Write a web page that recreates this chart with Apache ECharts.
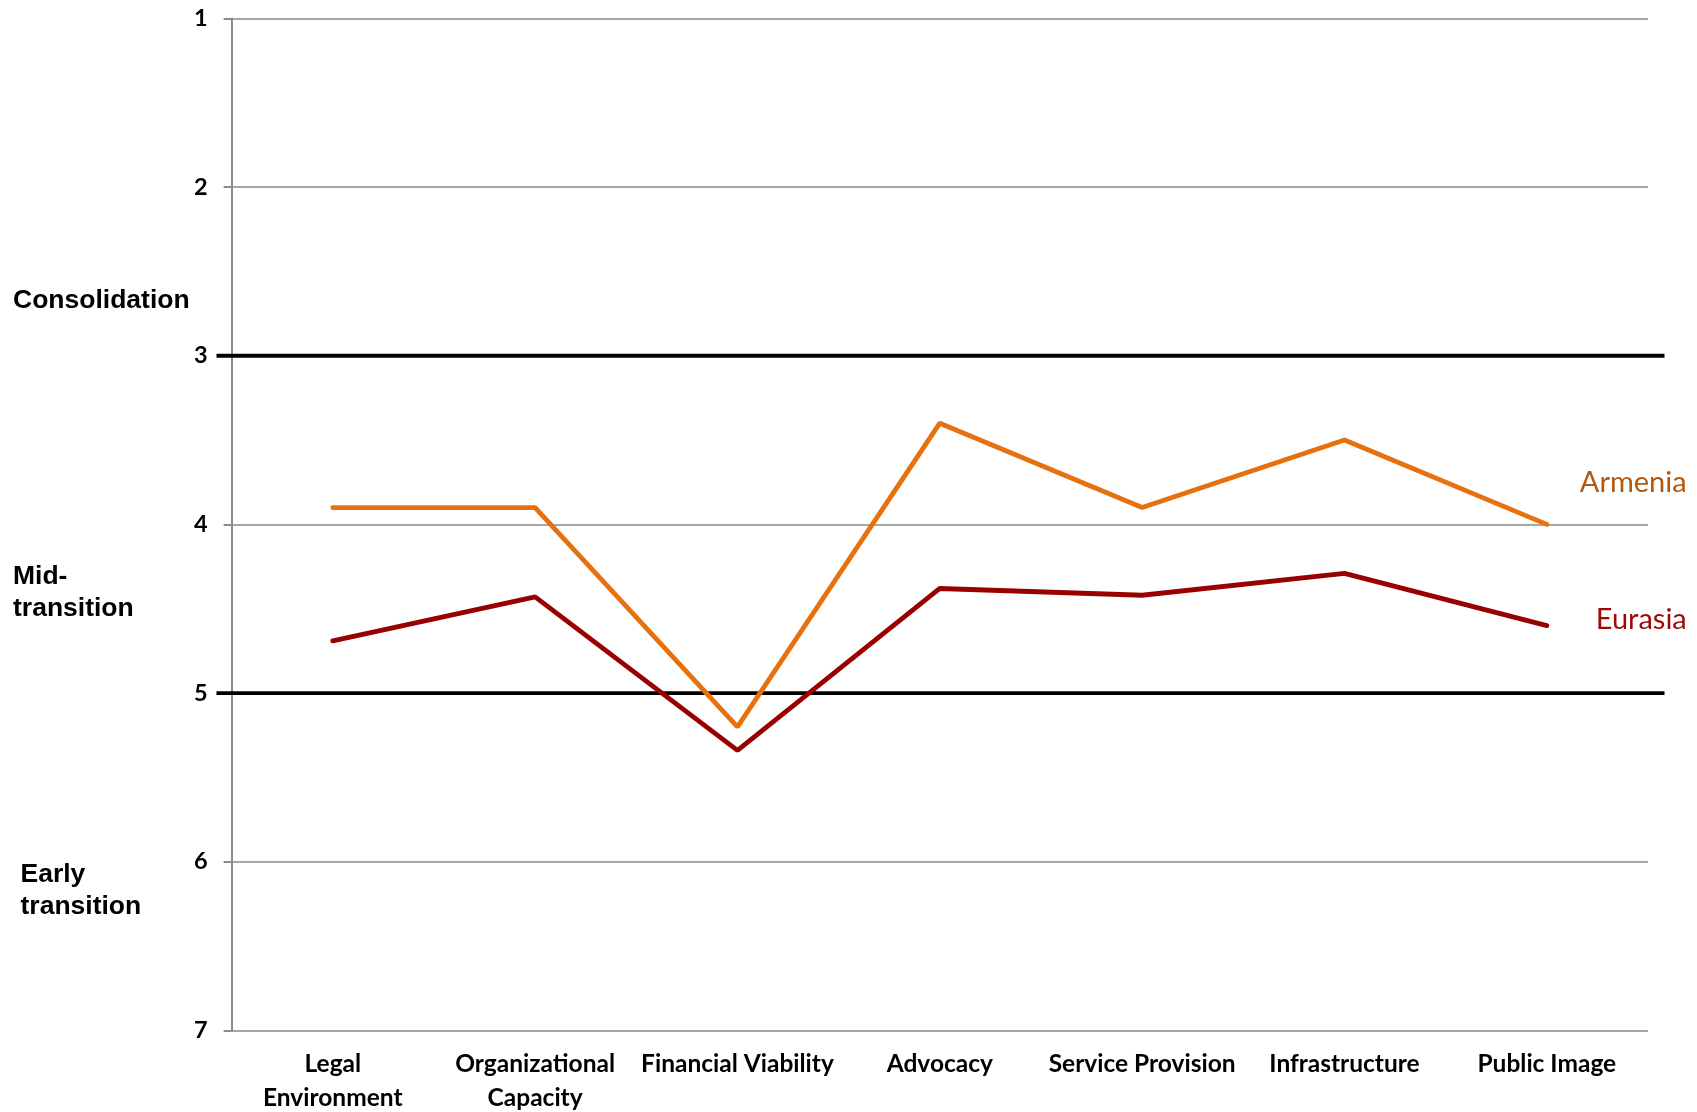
<!DOCTYPE html>
<html>
<head>
<meta charset="utf-8">
<script src="https://cdn.jsdelivr.net/npm/echarts@6/dist/echarts.min.js"></script>
<style>
html,body{margin:0;padding:0;background:#fff;overflow:hidden;width:1697px;height:1112px;}
#chart{width:1697px;height:1112px;}
</style>
</head>
<body>
<div id="chart"></div>
<script>
const categories = ['Legal\nEnvironment', 'Organizational\nCapacity', 'Financial Viability', 'Advocacy', 'Service Provision', 'Infrastructure', 'Public Image'];
const armenia = [3.9, 3.9, 5.2, 3.4, 3.9, 3.5, 4.0];
const eurasia = [4.69, 4.43, 5.34, 4.38, 4.42, 4.29, 4.6];
const yTicks = [1, 2, 3, 4, 5, 6, 7];
const boundaries = [3, 5];
const stageLabels = ['Consolidation', 'Mid-\ntransition', 'Early\ntransition'];

const chart = echarts.init(document.getElementById('chart'), null, { width: 1697, height: 1112 });
const gridCol = '#8a8a8a';
chart.setOption({
  animation: false,
  backgroundColor: '#ffffff',
  grid: { left: 231.6, right: 49, top: 18.4, bottom: 81.6, containLabel: false, outerBoundsMode: 'none' },
  xAxis: {
    type: 'category',
    data: categories,
    boundaryGap: true,
    axisLine: { show: false },
    axisTick: { show: false },
    axisLabel: { color: '#000', fontFamily: 'Lato', fontWeight: 'bold', fontSize: 24.5, lineHeight: 33.5, margin: 17, interval: 0 }
  },
  yAxis: {
    type: 'value',
    inverse: true,
    min: yTicks[0],
    max: yTicks[yTicks.length - 1],
    interval: 1,
    axisLine: { show: true, lineStyle: { color: gridCol, width: 2 } },
    axisTick: { show: true, length: 8, lineStyle: { color: gridCol, width: 2 } },
    splitLine: { show: true, lineStyle: { color: gridCol, width: 1.6 } },
    axisLabel: { color: '#000', fontFamily: 'Lato', fontWeight: 'bold', fontSize: 23.5, margin: 24 }
  },
  series: [
    {
      name: 'Armenia', type: 'line', data: armenia, symbol: 'none',
      lineStyle: { color: '#E8710F', width: 4.8, cap: 'round' },
      itemStyle: { color: '#E8710F' },
      endLabel: { show: true, formatter: '{a}', color: '#B0580F', fontFamily: 'Lato', fontSize: 29, offset: [25, -42] },
      z: 3
    },
    {
      name: 'Eurasia', type: 'line', data: eurasia, symbol: 'none',
      lineStyle: { color: '#990000', width: 4.8, cap: 'round' },
      itemStyle: { color: '#990000' },
      endLabel: { show: true, formatter: '{a}', color: '#9C0A0A', fontFamily: 'Lato', fontSize: 29, offset: [41, -6] },
      z: 3
    }
  ]
});

function drawExtras() {
  const lines = boundaries.map(v => {
    const y = chart.convertToPixel({ yAxisIndex: 0 }, v);
    return { type: 'line', shape: { x1: 216.5, y1: y, x2: 1664.5, y2: y }, style: { stroke: '#000', lineWidth: 3.8 }, z: 2 };
  });
  const font = 'bold 26.5px "Liberation Sans", Arial';
  const texts = [
    { type: 'text', left: 13, top: 287, style: { text: stageLabels[0], font: font, fill: '#000' } },
    { type: 'text', left: 13, top: 561, style: { text: stageLabels[1], font: font, fill: '#000', lineHeight: 31.5 } },
    { type: 'text', left: 20.5, top: 859, style: { text: stageLabels[2], font: font, fill: '#000', lineHeight: 31.5 } }
  ];
  chart.setOption({ graphic: lines.concat(texts) });
}
drawExtras();
</script>
</body>
</html>
